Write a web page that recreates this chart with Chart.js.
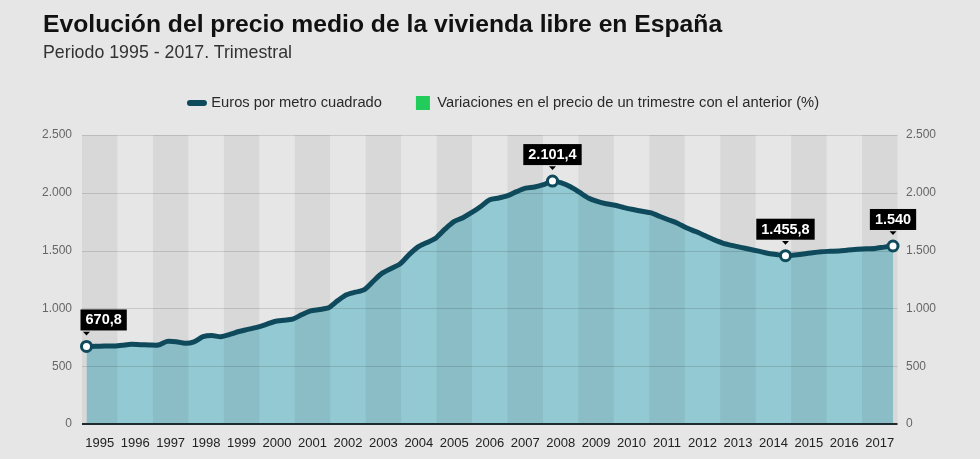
<!DOCTYPE html>
<html lang="es">
<head>
<meta charset="utf-8">
<script src="https://cdn.jsdelivr.net/npm/chart.js@4"></script>
<style>
  html, body { margin: 0; padding: 0; background: #e6e6e6; }
  #wrap { position: relative; width: 980px; height: 459px; overflow: hidden; }
  #title { position: absolute; left: 43px; top: 11.6px; font: bold 24.7px/1 "Liberation Sans", Arial, sans-serif; color: #111; white-space: nowrap; }
  #subtitle { position: absolute; left: 43px; top: 44px; font: 17.8px/1 "Liberation Sans", Arial, sans-serif; color: #333; white-space: nowrap; }
  canvas { position: absolute; left: 0; top: 0; }
</style>
</head>
<body>
<div id="wrap">
  <canvas id="c" width="980" height="459"></canvas>
  <div id="title">Evolución del precio medio de la vivienda libre en España</div>
  <div id="subtitle">Periodo 1995 - 2017. Trimestral</div>
</div>
<script>
// ---- Data ----
const years = ['1995','1996','1997','1998','1999','2000','2001','2002','2003','2004','2005','2006',
               '2007','2008','2009','2010','2011','2012','2013','2014','2015','2016','2017'];
const quarterNames = ['T1','T2','T3','T4'];
// Euros por metro cuadrado, 1995 T1 - 2017 T3 (91 trimestres)
const precioM2 = [
  670.8, 672, 674, 675,      // 1995
  682, 689, 686, 684,        // 1996
  683, 715, 712, 698,        // 1997
  710, 755, 765, 755,        // 1998
  775, 800, 818, 836,        // 1999
  860, 887, 898, 907,        // 2000
  945, 978, 990, 1005,       // 2001
  1065, 1118, 1140, 1162,    // 2002
  1235, 1305, 1345, 1385,    // 2003
  1465, 1532, 1570, 1610,    // 2004
  1685, 1750, 1785, 1830,    // 2005
  1882, 1940, 1955, 1975,    // 2006
  2010, 2040, 2050, 2070,    // 2007
  2101.4, 2085, 2052, 2005,  // 2008
  1955, 1925, 1905, 1892,    // 2009
  1872, 1855, 1840, 1826,    // 2010
  1795, 1765, 1735, 1695,    // 2011
  1665, 1630, 1595, 1565,    // 2012
  1545, 1528, 1512, 1495,    // 2013
  1477, 1466, 1455.8, 1462,  // 2014
  1470, 1482, 1491, 1494,    // 2015
  1497, 1505, 1511, 1516,    // 2016
  1519, 1530, 1540           // 2017
];
const quarterLabels = years.flatMap(y => quarterNames.map(q => y + ' ' + q)).slice(0, precioM2.length);
const highlightIdx = [0, 52, 78, 90];
const yTicks = [0, 500, 1000, 1500, 2000, 2500];
const legendLabels = ['Euros por metro cuadrado', 'Variaciones en el precio de un trimestre con el anterior (%)'];

// ---- Style ----
const LINE = '#0e4a5c';
const AREA = '#93c9d2';
const GREEN = '#22cc5a';
const FONT = "'Liberation Sans', Arial, sans-serif";

function fmtEs(v) {
  const neg = v < 0; v = Math.abs(v);
  const intPart = Math.floor(v + 1e-9);
  const dec = Math.round((v - intPart) * 10);
  const s = String(intPart).replace(/\B(?=(\d{3})+(?!\d))/g, '.');
  return (neg ? '-' : '') + s + (dec ? ',' + dec : '');
}

const stripesPlugin = {
  id: 'stripes',
  afterDatasetDraw(chart, args) {
    if (args.index !== 0) return;
    const { ctx, chartArea: ca, scales } = chart;
    const xs = scales.xYear, ys = scales.y;
    const band = (ca.right - ca.left) / years.length;
    ctx.save();
    ctx.fillStyle = 'rgba(0,0,0,0.06)';
    years.forEach((y, i) => {
      if (i % 2 === 0) {
        const cx = xs.getPixelForValue(i);
        ctx.fillRect(cx - band / 2, ca.top, band, ca.bottom - ca.top);
      }
    });
    ctx.strokeStyle = 'rgba(0,0,0,0.13)';
    ctx.lineWidth = 1;
    yTicks.forEach(v => {
      if (v === 0) return;
      const py = Math.round(ys.getPixelForValue(v)) + 0.5;
      ctx.beginPath(); ctx.moveTo(ca.left, py); ctx.lineTo(ca.right, py); ctx.stroke();
    });
    ctx.strokeStyle = '#1d2b2f';
    ctx.lineWidth = 2;
    const by = ys.getPixelForValue(0);
    ctx.beginPath(); ctx.moveTo(ca.left, by); ctx.lineTo(ca.right, by); ctx.stroke();
    ctx.restore();
  }
};

const labelsPlugin = {
  id: 'pointLabels',
  afterDatasetsDraw(chart) {
    const { ctx, chartArea: ca } = chart;
    const meta = chart.getDatasetMeta(1);
    ctx.save();
    ctx.font = 'bold 14.5px ' + FONT;
    ctx.textAlign = 'center';
    ctx.textBaseline = 'middle';
    highlightIdx.forEach(i => {
      const el = meta.data[i];
      const txt = fmtEs(precioM2[i]);
      const w = ctx.measureText(txt).width + 10;
      const h = 21;
      let left = el.x - w / 2;
      if (left < ca.left - 1.5) left = ca.left - 1.5;
      const bottom = el.y - 16;
      ctx.fillStyle = '#000';
      ctx.fillRect(left, bottom - h, w, h);
      ctx.beginPath();
      ctx.moveTo(el.x - 3.5, bottom + 1.2);
      ctx.lineTo(el.x + 3.5, bottom + 1.2);
      ctx.lineTo(el.x, bottom + 5);
      ctx.closePath();
      ctx.fill();
      ctx.fillStyle = '#fff';
      ctx.fillText(txt, left + w / 2, bottom - h / 2 + 0.5);
    });
    ctx.restore();
  }
};

const yTickOpts = (pad) => ({
  min: 0, max: 2500,
  ticks: { stepSize: 500, padding: pad, color: '#666', font: { family: FONT, size: 12, lineHeight: 1.2 },
           callback: v => fmtEs(v) },
  grid: { display: false, drawTicks: false },
  border: { display: false }
});

new Chart(document.getElementById('c'), {
  type: 'line',
  data: {
    labels: quarterLabels,
    datasets: [
      { label: 'area', data: precioM2, xAxisID: 'x', yAxisID: 'y', order: 2,
        fill: 'origin', backgroundColor: AREA, borderWidth: 0, borderColor: 'rgba(0,0,0,0)',
        pointRadius: 0, tension: 0.25 },
      { label: legendLabels[0], data: precioM2, xAxisID: 'x', yAxisID: 'y', order: 1,
        fill: false, borderColor: LINE, borderWidth: 5, tension: 0.25,
        borderJoinStyle: 'round', borderCapStyle: 'round',
        pointRadius: c => highlightIdx.includes(c.dataIndex) ? 5 : 0,
        pointHoverRadius: c => highlightIdx.includes(c.dataIndex) ? 5 : 0,
        pointBorderWidth: 3, pointBackgroundColor: '#fff', pointBorderColor: LINE }
    ]
  },
  options: {
    responsive: false,
    devicePixelRatio: 1,
    animation: false,
    events: [],
    layout: { padding: { top: 61.6, left: 29, right: 0, bottom: 6 } },
    plugins: {
      tooltip: { enabled: false },
      title: { display: false },
      subtitle: { display: true, text: '', weight: 500, padding: 0, font: { size: 14.7, lineHeight: 1 } },
      legend: {
        display: true, position: 'top', align: 'center',
        labels: {
          usePointStyle: true, pointStyleWidth: 14, boxHeight: 14, padding: 34,
          color: '#2a2a2a', font: { family: FONT, size: 14.7 },
          generateLabels: () => [
            { text: legendLabels[0], pointStyle: 'line', strokeStyle: LINE, fillStyle: LINE, lineWidth: 6, lineCap: 'round', hidden: false, datasetIndex: 1, fontColor: '#2a2a2a' },
            { text: legendLabels[1], pointStyle: 'rect', strokeStyle: GREEN, fillStyle: GREEN, lineWidth: 0, hidden: false, datasetIndex: 0, fontColor: '#2a2a2a' }
          ]
        }
      }
    },
    scales: {
      x: { type: 'category', display: false, offset: true },
      xYear: {
        type: 'category', labels: years, position: 'bottom', offset: true,
        grid: { display: false, drawTicks: false }, border: { display: false },
        ticks: { autoSkip: false, maxRotation: 0, minRotation: 0, padding: 12, color: '#222',
                 font: { family: FONT, size: 13, lineHeight: 1.2 } },
        afterFit: s => { s.height = 29; }
      },
      y: Object.assign(yTickOpts(10), { position: 'left', afterFit: s => { s.width = 53; } }),
      y2: Object.assign(yTickOpts(8.5), { position: 'right', afterFit: s => { s.width = 82.5; } })
    }
  },
  plugins: [stripesPlugin, labelsPlugin]
});
</script>
</body>
</html>
